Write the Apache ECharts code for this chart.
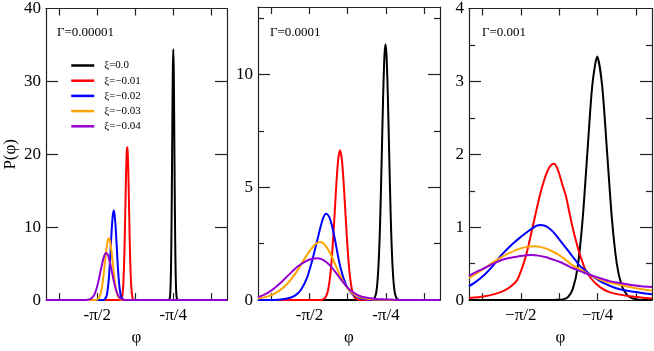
<!DOCTYPE html>
<html>
<head>
<meta charset="utf-8">
<script src="https://cdn.jsdelivr.net/npm/echarts@6/dist/echarts.min.js"></script>
<style>
  html, body { margin: 0; padding: 0; background: #fff; }
  #chart { width: 654px; height: 351px; }
</style>
</head>
<body>
<div id="chart"></div>
<script>
// phi range shared by the three panels
const xMin = -2.1;
const xMax = -0.23;
const xTickVals = [-5 * Math.PI / 8, -Math.PI / 2, -3 * Math.PI / 8, -Math.PI / 4, -Math.PI / 8];
const xLabelVals = [-Math.PI / 2, -Math.PI / 4];
const xLabelsHyphen = ["-π/2", "-π/4"];
const xLabelsMinus = ["−π/2", "−π/4"];

const gammaLabels = ["Γ=0.00001", "Γ=0.0001", "Γ=0.001"];
const seriesNames = ["ξ=0.0", "ξ=−0.01", "ξ=−0.02", "ξ=−0.03", "ξ=−0.04"];
const seriesColors = ["#000000", "#ff0000", "#0000ff", "#ffa500", "#9400d3"];

const yMaxes = [40, 13, 4];
const yLabelVals = [[0, 10, 20, 30, 40], [0, 5, 10], [0, 1, 2, 3, 4]];
const yMajorTicks = [[10, 20, 30], [5, 10], [1, 2, 3]];
const yMinorTicks = [[], [2.5, 7.5, 12.5], [0.5, 1.5, 2.5, 3.5]];

// panel 1: Γ=0.00001
const p1Black = [[-2.1,0],[-0.84,0],[-0.83,0.02],[-0.82,0.36],[-0.815,1.2],[-0.81,3.4],[-0.805,7.8],[-0.8,14.9],[-0.795,23.7],[-0.79,31.4],[-0.785,34.4],[-0.78,31.4],[-0.775,23.7],[-0.77,14.9],[-0.765,7.8],[-0.76,3.4],[-0.755,1.2],[-0.75,0.36],[-0.74,0.02],[-0.73,0],[-0.23,0]];
const p1Red = [[-2.1,0],[-1.34,0],[-1.331,0.02],[-1.321,0.15],[-1.311,0.66],[-1.301,2.3],[-1.296,3.9],[-1.291,6.0],[-1.286,8.8],[-1.281,12.1],[-1.276,15.4],[-1.271,18.3],[-1.266,20.3],[-1.261,21.0],[-1.256,20.3],[-1.251,18.3],[-1.246,15.4],[-1.241,12.1],[-1.236,8.8],[-1.231,6.0],[-1.226,3.9],[-1.221,2.3],[-1.211,0.66],[-1.201,0.15],[-1.191,0.02],[-1.18,0],[-0.23,0]];
const p1Blue = [[-2.1,0],[-1.52,0],[-1.5,0.05],[-1.48,0.35],[-1.47,0.8],[-1.46,1.7],[-1.45,3.1],[-1.44,5.1],[-1.43,7.5],[-1.42,9.9],[-1.41,11.6],[-1.4,12.3],[-1.39,11.6],[-1.38,9.9],[-1.37,7.5],[-1.36,5.1],[-1.35,3.1],[-1.34,1.7],[-1.33,0.8],[-1.32,0.35],[-1.3,0.05],[-1.28,0],[-0.23,0]];
const p1Orange = [[-2.1,0],[-1.61,0],[-1.59,0.02],[-1.571,0.09],[-1.551,0.37],[-1.541,0.67],[-1.531,1.15],[-1.521,1.8],[-1.511,2.8],[-1.501,3.9],[-1.491,5.2],[-1.481,6.4],[-1.471,7.5],[-1.461,8.24],[-1.451,8.5],[-1.441,8.24],[-1.431,7.5],[-1.421,6.4],[-1.411,5.2],[-1.401,3.9],[-1.391,2.8],[-1.381,1.8],[-1.371,1.15],[-1.361,0.67],[-1.351,0.37],[-1.331,0.09],[-1.311,0.02],[-1.29,0],[-0.23,0]];
const p1Purple = [[-2.1,0],[-1.7,0],[-1.678,0.03],[-1.658,0.07],[-1.638,0.17],[-1.618,0.4],[-1.598,0.82],[-1.578,1.55],[-1.558,2.6],[-1.538,3.9],[-1.518,5.1],[-1.498,6.1],[-1.478,6.47],[-1.458,6.1],[-1.438,5.1],[-1.418,3.8],[-1.398,2.5],[-1.378,1.46],[-1.358,0.76],[-1.338,0.35],[-1.318,0.14],[-1.298,0.05],[-1.278,0.02],[-1.25,0],[-0.23,0]];

// panel 2: Γ=0.0001
const p2Black = [[-2.1,0],[-0.94,0],[-0.93,0.01],[-0.91,0.04],[-0.89,0.24],[-0.88,0.5],[-0.87,0.96],[-0.86,1.7],[-0.85,2.8],[-0.84,4.3],[-0.83,6.1],[-0.82,8.0],[-0.81,9.7],[-0.8,10.9],[-0.79,11.35],[-0.78,10.9],[-0.77,9.7],[-0.76,8.0],[-0.75,6.1],[-0.74,4.3],[-0.73,2.8],[-0.72,1.7],[-0.71,0.96],[-0.7,0.5],[-0.69,0.24],[-0.67,0.04],[-0.65,0.01],[-0.64,0],[-0.23,0]];
const p2Red = [[-2.1,0],[-1.47,0],[-1.447,0.01],[-1.417,0.07],[-1.397,0.2],[-1.377,0.51],[-1.357,1.12],[-1.337,2.13],[-1.317,3.5],[-1.297,5.0],[-1.277,6.19],[-1.257,6.65],[-1.237,6.19],[-1.217,5.0],[-1.197,3.5],[-1.177,2.13],[-1.157,1.12],[-1.137,0.51],[-1.117,0.2],[-1.097,0.07],[-1.067,0.01],[-1.04,0],[-0.23,0]];
const p2Blue = [[-2.1,0],[-1.9,0.02],[-1.8,0.07],[-1.72,0.2],[-1.66,0.45],[-1.6,0.95],[-1.55,1.65],[-1.5,2.5],[-1.46,3.2],[-1.43,3.65],[-1.4,3.83],[-1.37,3.7],[-1.34,3.3],[-1.31,2.7],[-1.28,2.0],[-1.25,1.4],[-1.22,0.95],[-1.19,0.62],[-1.15,0.35],[-1.1,0.17],[-1.05,0.08],[-1.0,0.04],[-0.9,0.01],[-0.8,0],[-0.23,0]];
const p2Orange = [[-2.1,0.07],[-2.034,0.12],[-1.965,0.22],[-1.896,0.38],[-1.827,0.6],[-1.758,0.93],[-1.689,1.35],[-1.62,1.85],[-1.551,2.28],[-1.5,2.52],[-1.455,2.58],[-1.413,2.45],[-1.361,2.1],[-1.31,1.62],[-1.258,1.1],[-1.206,0.68],[-1.154,0.4],[-1.102,0.22],[-1.05,0.12],[-0.98,0.06],[-0.9,0.03],[-0.8,0.01],[-0.7,0],[-0.23,0]];
const p2Purple = [[-2.1,0.13],[-2.034,0.24],[-1.965,0.42],[-1.896,0.66],[-1.827,0.94],[-1.758,1.23],[-1.689,1.5],[-1.62,1.7],[-1.551,1.82],[-1.5,1.86],[-1.448,1.82],[-1.396,1.68],[-1.344,1.46],[-1.292,1.17],[-1.24,0.87],[-1.189,0.6],[-1.137,0.39],[-1.085,0.24],[-1.033,0.15],[-0.964,0.09],[-0.895,0.05],[-0.8,0.03],[-0.7,0.015],[-0.6,0.005],[-0.5,0],[-0.23,0]];

// panel 3: Γ=0.001
const p3Black = [[-2.1,0],[-1.25,0],[-1.19,0.005],[-1.14,0.01],[-1.09,0.04],[-1.04,0.15],[-0.99,0.45],[-0.94,1.09],[-0.89,2.03],[-0.84,2.95],[-0.79,3.34],[-0.74,2.95],[-0.69,2.05],[-0.64,1.12],[-0.59,0.5],[-0.54,0.2],[-0.49,0.08],[-0.44,0.03],[-0.39,0.01],[-0.3,0],[-0.23,0]];
const p3Red = [[-2.1,0.03],[-1.95,0.05],[-1.83,0.085],[-1.74,0.13],[-1.67,0.19],[-1.61,0.27],[-1.58,0.36],[-1.55,0.47],[-1.52,0.6],[-1.49,0.76],[-1.46,0.94],[-1.43,1.12],[-1.4,1.3],[-1.37,1.47],[-1.34,1.61],[-1.31,1.73],[-1.28,1.82],[-1.255,1.86],[-1.233,1.87],[-1.205,1.83],[-1.175,1.72],[-1.145,1.58],[-1.11,1.43],[-1.08,1.24],[-1.04,0.99],[-1.0,0.78],[-0.975,0.66],[-0.94,0.52],[-0.906,0.4],[-0.86,0.31],[-0.8,0.22],[-0.73,0.15],[-0.665,0.11],[-0.56,0.075],[-0.458,0.053],[-0.34,0.035],[-0.23,0.022]];
const p3Blue = [[-2.1,0.19],[-2.02,0.26],[-1.939,0.35],[-1.85,0.48],[-1.767,0.62],[-1.68,0.74],[-1.595,0.84],[-1.52,0.92],[-1.457,0.98],[-1.41,1.02],[-1.37,1.03],[-1.325,1.02],[-1.285,0.99],[-1.235,0.93],[-1.182,0.84],[-1.13,0.75],[-1.078,0.66],[-1.025,0.57],[-0.975,0.48],[-0.915,0.41],[-0.854,0.34],[-0.795,0.29],[-0.734,0.24],[-0.65,0.19],[-0.561,0.15],[-0.47,0.125],[-0.389,0.11],[-0.3,0.09],[-0.23,0.08]];
const p3Orange = [[-2.1,0.3],[-2.02,0.37],[-1.939,0.44],[-1.85,0.52],[-1.767,0.59],[-1.68,0.65],[-1.595,0.7],[-1.51,0.73],[-1.422,0.74],[-1.37,0.73],[-1.319,0.71],[-1.25,0.67],[-1.182,0.62],[-1.11,0.55],[-1.044,0.48],[-0.95,0.41],[-0.854,0.34],[-0.76,0.28],[-0.665,0.24],[-0.56,0.21],[-0.458,0.18],[-0.34,0.15],[-0.23,0.13]];
const p3Purple = [[-2.1,0.33],[-2.02,0.39],[-1.939,0.44],[-1.85,0.5],[-1.767,0.55],[-1.68,0.58],[-1.595,0.6],[-1.52,0.615],[-1.457,0.62],[-1.39,0.61],[-1.319,0.59],[-1.25,0.56],[-1.182,0.53],[-1.11,0.485],[-1.044,0.44],[-0.95,0.39],[-0.854,0.34],[-0.76,0.3],[-0.665,0.26],[-0.56,0.235],[-0.458,0.21],[-0.34,0.19],[-0.23,0.18]];

const panels = [
  [p1Black, p1Red, p1Blue, p1Orange, p1Purple],
  [p2Black, p2Red, p2Blue, p2Orange, p2Purple],
  [p3Black, p3Red, p3Blue, p3Orange, p3Purple],
];

const font = "Liberation Serif";
const frameColor = "#222";
const grids = [
  { left: 46, top: 7, width: 181, height: 303 },
  { left: 258, top: 7, width: 182, height: 303 },
  { left: 469, top: 7, width: 183, height: 303 },
];

const chart = echarts.init(document.getElementById("chart"), null, { renderer: "canvas" });

const xAxes = [];
const yAxes = [];
grids.forEach((g, gi) => {
  const labels = gi === 2 ? xLabelsMinus : xLabelsHyphen;
  ["bottom", "top"].forEach((pos) => {
    xAxes.push({
      type: "value", gridIndex: gi, position: pos, min: xMin, max: xMax,
      name: pos === "bottom" ? "φ" : "",
      nameLocation: "middle", nameGap: 25,
      nameTextStyle: { fontFamily: font, fontSize: 17, color: "#000" },
      axisLine: { show: true, onZero: false, lineStyle: { color: frameColor, width: 1.2 } },
      axisTick: { show: true, inside: true, length: 7, customValues: xTickVals, lineStyle: { color: frameColor, width: 1.2 } },
      axisLabel: {
        show: pos === "bottom", customValues: xLabelVals, margin: 7,
        fontFamily: font, fontSize: 17, color: "#000",
        formatter: (v) => {
          const i = xLabelVals.findIndex((t) => Math.abs(t - v) < 1e-6);
          return i >= 0 ? labels[i] : "";
        },
      },
      splitLine: { show: false },
    });
  });
  // left major, right major, left minor, right minor
  [["left", yMajorTicks[gi], 12, true], ["right", yMajorTicks[gi], 12, true],
   ["left", yMinorTicks[gi], 6, false], ["right", yMinorTicks[gi], 6, false]].forEach(([pos, ticks, len, line], k) => {
    yAxes.push({
      type: "value", gridIndex: gi, position: pos, min: 0, max: yMaxes[gi],
      name: gi === 0 && k === 0 ? "P(φ)" : "",
      nameLocation: "middle", nameGap: 27,
      nameTextStyle: { fontFamily: font, fontSize: 17, color: "#000" },
      axisLine: { show: line, onZero: false, lineStyle: { color: frameColor, width: 1.2 } },
      axisTick: { show: ticks.length > 0, inside: true, length: len, customValues: ticks.length ? ticks : [0], lineStyle: { color: frameColor, width: 1.2 } },
      axisLabel: {
        show: k === 0, customValues: yLabelVals[gi], margin: 5,
        fontFamily: font, fontSize: 17, color: "#000",
      },
      splitLine: { show: false },
    });
  });
});

const series = [];
panels.forEach((curves, gi) => {
  curves.forEach((data, si) => {
    series.push({
      type: "line",
      name: seriesNames[si],
      xAxisIndex: gi * 2,
      yAxisIndex: gi * 4,
      data: data,
      symbol: "none",
      showSymbol: false,
      smooth: 0.25,
      lineStyle: { color: seriesColors[si], width: 2 },
      itemStyle: { color: seriesColors[si] },
      z: 3 + si,
    });
  });
});

const gammaPos = [57, 270, 482];

const option = {
  animation: false,
  backgroundColor: "#fff",
  grid: grids,
  xAxis: xAxes,
  yAxis: yAxes,
  legend: {
    data: seriesNames,
    orient: "vertical",
    left: 65,
    top: 55,
    itemWidth: 23,
    itemHeight: 12,
    itemGap: 4.2,
    selectedMode: false,
    itemStyle: { opacity: 0 },
    lineStyle: { width: 2.5 },
    textStyle: { fontFamily: font, fontSize: 11, color: "#000", padding: [0, 0, 0, 5] },
  },
  graphic: gammaLabels.map((t, i) => ({
    type: "text",
    left: gammaPos[i],
    top: 26,
    style: { text: t, font: "13px 'Liberation Serif'", fill: "#000" },
  })),
  series: series,
};

chart.setOption(option);
</script>
</body>
</html>
